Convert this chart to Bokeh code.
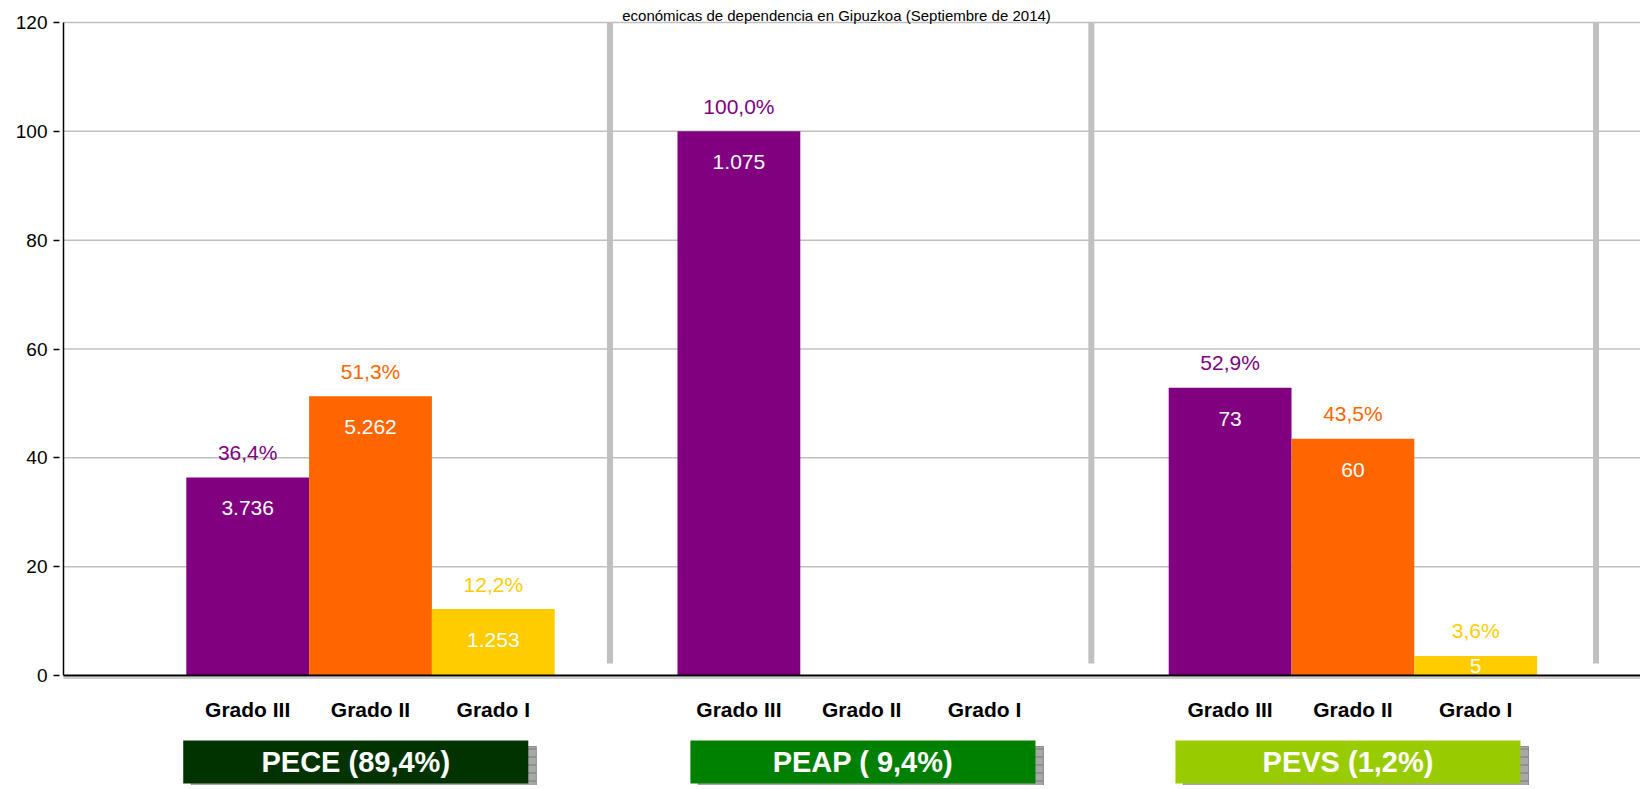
from bokeh.plotting import figure
from bokeh.models import Range1d, LinearAxis, FixedTicker, ColumnDataSource
from bokeh.core.properties import value
from bokeh.embed import file_html
from bokeh.resources import INLINE

# ---------------- data ----------------
TITLE = "económicas de dependencia en Gipuzkoa (Septiembre de 2014)"
groups = ["PECE (89,4%)", "PEAP ( 9,4%)", "PEVS (1,2%)"]
grados = ["Grado III", "Grado II", "Grado I"]
pct_grado3 = [36.4, 100.0, 52.9]
pct_grado2 = [51.3, None, 43.5]
pct_grado1 = [12.2, None, 3.6]
n_grado3 = [3736, 1075, 73]
n_grado2 = [5262, None, 60]
n_grado1 = [1253, None, 5]
y_ticks = [0, 20, 40, 60, 80, 100, 120]

# ---------------- style / layout ----------------
grado_colors = ["#800080", "#FF6600", "#FFCC00"]
group_colors = ["#003300", "#008000", "#99CC00"]
FONT = value("Liberation Sans")
W, H = 1640, 785
LEFT = 59
AXIS_PX = 63            # canvas x of the y axis line
UNIT = 122.8            # px per category slot
Y0_PX = 675             # canvas y of value 0
Y120_PX = 22            # canvas y of value 120
PPU = (Y0_PX - Y120_PX) / 120.0
X_START = -(AXIS_PX - LEFT) / UNIT
X_END = X_START + (W - LEFT) / UNIT
Y_START = -(H - Y0_PX) / PPU
Y_END = 120 + Y120_PX / PPU
SEP_X = [4.45, 8.37, 12.48]
BOX_SHIFT = [-0.12, 0.01, -0.04]
BOX_W = 2.81
BOX_TOP = -(740 - Y0_PX) / PPU
BOX_BOT = -(783 - Y0_PX) / PPU

p = figure(width=W, height=H, output_backend="svg", toolbar_location=None,
           x_range=Range1d(X_START, X_END), y_range=Range1d(Y_START, Y_END),
           x_axis_location=None, y_axis_location=None,
           min_border_left=LEFT, min_border_right=0, min_border_top=0,
           min_border_bottom=0)
p.outline_line_color = None
p.xgrid.visible = False
p.ygrid.visible = False
p.background_fill_color = "white"

yaxis = LinearAxis(ticker=FixedTicker(ticks=y_ticks))
yaxis.axis_line_color = None
yaxis.major_tick_line_color = "black"
yaxis.major_tick_line_width = 1.5
yaxis.major_tick_out = 6
yaxis.major_tick_in = 0
yaxis.minor_tick_line_color = None
yaxis.major_label_text_font = "Liberation Sans"
yaxis.major_label_text_font_size = "19px"
yaxis.major_label_text_color = "black"
yaxis.major_label_standoff = 6
p.add_layout(yaxis, "left")

# gridlines
grid_y = [t for t in y_ticks if t > 0]
p.segment(x0=[0] * len(grid_y), x1=[X_END] * len(grid_y), y0=grid_y, y1=grid_y,
          line_color="#C0C0C0", line_width=1.5)
# separators
p.segment(x0=SEP_X, x1=SEP_X, y0=[2.2] * len(SEP_X), y1=[120] * len(SEP_X),
          line_color="#C0C0C0", line_width=6)

# bars
pcts = [pct_grado3, pct_grado2, pct_grado1]
ns = [n_grado3, n_grado2, n_grado1]
for j in range(3):
    xs, tops, plab, nlab, ny = [], [], [], [], []
    for g in range(3):
        v = pcts[j][g]
        if v is None:
            continue
        xs.append(1 + 4 * g + j + 0.5)
        tops.append(v)
        plab.append(f"{v:.1f}".replace(".", ",") + "%")
        nlab.append(f"{ns[j][g]:,}".replace(",", "."))
        ny.append(max(v - 31 / PPU, v / 2))
    src = ColumnDataSource(dict(x=xs, top=tops, plab=plab, nlab=nlab, ny=ny))
    p.vbar(x="x", top="top", bottom=0, width=1.0, source=src,
           fill_color=grado_colors[j], line_color=None)
    p.text(x="x", y="top", text="plab", source=src, y_offset=-25,
           text_align="center", text_baseline="middle", text_font=FONT,
           text_font_size="21px", text_color=grado_colors[j])
    p.text(x="x", y="ny", text="nlab", source=src,
           text_align="center", text_baseline="middle", text_font=FONT,
           text_font_size="21px", text_color="white")

# axis lines
p.segment(x0=[0], x1=[X_END], y0=[-2.5 / PPU], y1=[-2.5 / PPU],
          line_color="#C0C0C0", line_width=1.5)
p.segment(x0=[0], x1=[X_END], y0=[0], y1=[0], line_color="black", line_width=2)
p.segment(x0=[0], x1=[0], y0=[0], y1=[120], line_color="black", line_width=1.5)

# category labels
cat_x = [1 + 4 * g + j + 0.5 for g in range(3) for j in range(3)]
cat_t = [grados[j] for g in range(3) for j in range(3)]
p.text(x=cat_x, y=[0] * len(cat_x), text=cat_t, y_offset=34,
       text_align="center", text_baseline="middle", text_font=FONT,
       text_font_size="21px", text_font_style="bold", text_color="black")

# group boxes
centers = [1 + 4 * g + 1.5 + BOX_SHIFT[g] for g in range(3)]
lefts = [c - BOX_W / 2 for c in centers]
rights = [c + BOX_W / 2 for c in centers]
dx, dy = 8 / UNIT, 6 / PPU
p.quad(left=[l + dx for l in lefts], right=[r + dx for r in rights],
       top=[BOX_TOP - dy] * 3, bottom=[BOX_BOT - dy] * 3,
       fill_color="#A8A8A8", line_color="#8C8C8C",
       hatch_pattern="horizontal_line", hatch_color="#7A7A7A",
       hatch_scale=8, hatch_weight=1)
p.quad(left=lefts, right=rights, top=[BOX_TOP] * 3, bottom=[BOX_BOT] * 3,
       fill_color=group_colors, line_color=None)
p.text(x=centers, y=[(BOX_TOP + BOX_BOT) / 2] * 3, text=groups,
       text_align="center", text_baseline="middle", text_font=FONT,
       text_font_size="29px", text_font_style="bold", text_color="white")

# title (only its last line is visible in the original)
p.text(x=[(836 - AXIS_PX) / UNIT], y=[120], text=[TITLE], y_offset=-7,
       text_align="center", text_baseline="alphabetic", text_font=FONT,
       text_font_size="15px", text_color="black")

open("out.html", "w").write(file_html(p, INLINE))
